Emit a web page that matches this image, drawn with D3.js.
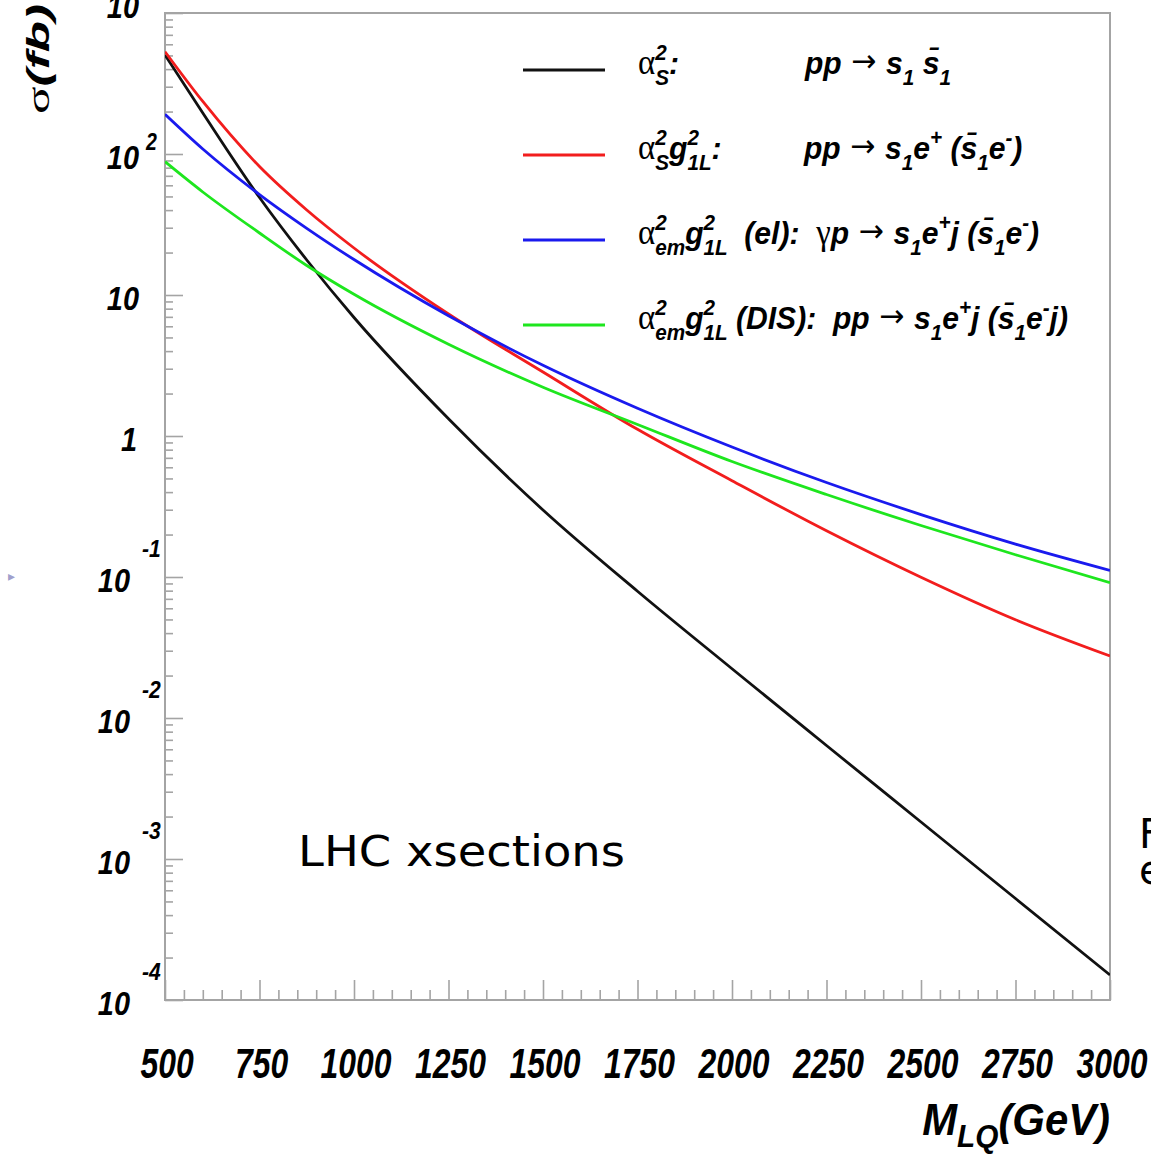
<!DOCTYPE html>
<html>
<head>
<meta charset="utf-8">
<script src="https://cdn.jsdelivr.net/npm/d3@7"></script>
<style>
  html, body { margin: 0; padding: 0; background: #fff; }
  svg { display: block; }
</style>
</head>
<body>
<svg id="chart" width="1151" height="1158"></svg>
<script>
// Leptoquark production cross sections at the LHC versus leptoquark mass
const massGeV     = [500, 600, 750, 875, 1000, 1250, 1500, 1750, 2000, 2250, 2500, 2750, 3000];
const sigmaPair   = [503.7, 195.3, 49.15, 17.71, 6.925, 1.325, 0.2987, 0.07923, 0.02235, 0.006383, 0.001830, 0.0005247, 0.0001504];
const sigmaSingle = [531.6, 235.7, 81.5, 40.08, 21.54, 7.333, 2.844, 1.115, 0.4816, 0.2128, 0.09959, 0.04975, 0.02753];
const sigmaPhoton = [191.2, 108.5, 51.58, 29.72, 17.84, 7.121, 3.172, 1.572, 0.8348, 0.4677, 0.2773, 0.1713, 0.1115];
const sigmaDIS    = [88.19, 53.77, 27.53, 16.19, 10.12, 4.474, 2.217, 1.208, 0.6593, 0.3846, 0.2318, 0.1438, 0.09103];

const xMajorTicks = [500, 750, 1000, 1250, 1500, 1750, 2000, 2250, 2500, 2750, 3000];
const xTickLabels = ["500", "750", "1000", "1250", "1500", "1750", "2000", "2250", "2500", "2750", "3000"];
const yDecadeExponents = [-4, -3, -2, -1, 0, 1, 2, 3];
const seriesColors = ["#111111", "#f21d1d", "#1a1aee", "#1ee61e"];

const svg = d3.select("#chart");
const W = 1151, H = 1158;
const plot = { left: 165, right: 1110, top: 13, bottom: 1000 };
const axisGray = "#a4a4a4";
const labelFont = "'Liberation Sans', Arial, Helvetica, sans-serif";
const symFont = "'Liberation Serif', 'Times New Roman', serif";
const arrowFont = "'DejaVu Sans', sans-serif";
const handFont = "'Comic Sans MS', 'DejaVu Sans', sans-serif";

const x = d3.scaleLinear().domain([500, 3000]).range([plot.left, plot.right]);
const y = d3.scaleLog().domain([1e-4, 1e3]).range([plot.bottom, plot.top]);

svg.append("rect").attr("width", W).attr("height", H).attr("fill", "#fff");

// ---- ticks (drawn inward) ----
const xMinor = d3.range(500, 3001, 50).filter(v => v % 250 !== 0);
const gxMinor = svg.append("g").attr("transform", `translate(0,${plot.bottom})`)
  .call(d3.axisBottom(x).tickValues(xMinor).tickSize(-10).tickFormat(""));
const gxMajor = svg.append("g").attr("transform", `translate(0,${plot.bottom})`)
  .call(d3.axisBottom(x).tickValues(xMajorTicks).tickSize(-20).tickFormat(""));

const yMinor = [];
yDecadeExponents.slice(0, -1).forEach(e => {
  for (let k = 2; k <= 9; k++) yMinor.push(k * Math.pow(10, e));
});
const yMajor = yDecadeExponents.map(e => Math.pow(10, e));
const gyMinor = svg.append("g").attr("transform", `translate(${plot.left},0)`)
  .call(d3.axisLeft(y).tickValues(yMinor).tickSize(-8).tickFormat(""));
const gyMajor = svg.append("g").attr("transform", `translate(${plot.left},0)`)
  .call(d3.axisLeft(y).tickValues(yMajor).tickSize(-18).tickFormat(""));

[gxMinor, gxMajor, gyMinor, gyMajor].forEach(g => {
  g.select(".domain").remove();
  g.selectAll(".tick line").attr("stroke", axisGray).attr("stroke-width", 1.6);
});

// frame
svg.append("rect")
  .attr("x", plot.left).attr("y", plot.top)
  .attr("width", plot.right - plot.left).attr("height", plot.bottom - plot.top)
  .attr("fill", "none").attr("stroke", axisGray).attr("stroke-width", 2);

// ---- condensed text helpers ----
function condensed(parent, px, py, sx) {
  return parent.append("g").attr("transform", `translate(${px},${py}) scale(${sx},1)`);
}
function boldItalic(sel, size) {
  return sel.attr("font-family", labelFont).attr("font-weight", "bold")
    .attr("font-style", "italic").attr("font-size", size).attr("fill", "#000");
}

// x tick labels
xMajorTicks.forEach((v, i) => {
  const g = condensed(svg, x(v) + 2, 1078, 0.76);
  boldItalic(g.append("text"), 42).attr("text-anchor", "middle").text(xTickLabels[i]);
});

// y tick labels: 10^n with raised exponent
yDecadeExponents.forEach(e => {
  const ty = y(Math.pow(10, e));
  if (e === 0) {
    const g = condensed(svg, 137, ty + 15, 0.85);
    boldItalic(g.append("text"), 34).attr("text-anchor", "end").text("1");
  } else if (e === 1) {
    const g = condensed(svg, 139, ty + 15, 0.85);
    boldItalic(g.append("text"), 34).attr("text-anchor", "end").text("10");
  } else if (e > 0) {
    const base = e === 3 ? ty + 5 : ty + 15;
    const g = condensed(svg, 139, base, 0.85);
    boldItalic(g.append("text"), 34).attr("text-anchor", "end").text("10");
    const ge = condensed(svg, 146, base - 19, 0.85);
    boldItalic(ge.append("text"), 23).attr("text-anchor", "start").text(String(e));
  } else {
    const g = condensed(svg, 130, ty + 15, 0.85);
    boldItalic(g.append("text"), 34).attr("text-anchor", "end").text("10");
    const ge = condensed(svg, 142, ty - 20, 0.88);
    boldItalic(ge.append("text"), 24).attr("text-anchor", "start").text(String(e));
  }
});

// x axis title  M_LQ(GeV)
{
  const g = condensed(svg, plot.right, 1135, 0.93);
  const t = boldItalic(g.append("text"), 45).attr("text-anchor", "end");
  t.append("tspan").text("M");
  t.append("tspan").attr("font-size", 32).attr("dy", 12).text("LQ");
  t.append("tspan").attr("dy", -12).text("(GeV)");
}

// y axis title  σ(fb)
{
  const g = svg.append("g").attr("transform", `translate(49,114) rotate(-90) scale(1.6,1)`);
  const t = g.append("text").attr("font-size", 32).attr("fill", "#000");
  t.append("tspan").attr("font-family", symFont).text("σ");
  t.append("tspan").attr("font-family", labelFont).attr("font-weight", "bold")
    .attr("font-style", "italic").text("(fb)");
}

// ---- curves ----
const line = d3.line()
  .x(d => x(d[0]))
  .y(d => y(d[1]))
  .curve(d3.curveMonotoneX);

const series = [sigmaPair, sigmaSingle, sigmaPhoton, sigmaDIS];
svg.append("clipPath").attr("id", "plotClip")
  .append("rect").attr("x", plot.left).attr("y", plot.top)
  .attr("width", plot.right - plot.left).attr("height", plot.bottom - plot.top);
const curves = svg.append("g").attr("clip-path", "url(#plotClip)");
series.forEach((vals, i) => {
  curves.append("path")
    .datum(massGeV.map((m, j) => [m, vals[j]]))
    .attr("d", line)
    .attr("fill", "none")
    .attr("stroke", seriesColors[i])
    .attr("stroke-width", 2.8)
    .attr("stroke-linejoin", "round");
});

// ---- legend ----
const legendRows = [
  {
    y: 70,
    parts: [
      { x: 638, segs: [["sym", "α"], ["stack", "2", "S"], ["b", ":"]] },
      { x: 805, segs: [["b", "pp"], ["arrow", "\u00a0→\u00a0"], ["b", "s"], ["sub", "1"], ["b", "\u00a0s\u0304"], ["sub", "1"]] }
    ]
  },
  {
    y: 155,
    parts: [
      { x: 638, segs: [["sym", "α"], ["stack", "2", "S"], ["b", "g"], ["stack", "2", "1L"], ["b", ":"]] },
      { x: 804, segs: [["b", "pp"], ["arrow", "\u00a0→\u00a0"], ["b", "s"], ["sub", "1"], ["b", "e"], ["sup", "+"],
                       ["b", "\u00a0(s\u0304"], ["sub", "1"], ["b", "e"], ["sup", "-"], ["b", ")"]] }
    ]
  },
  {
    y: 240,
    parts: [
      { x: 638, segs: [["sym", "α"], ["stack", "2", "em"], ["b", "g"], ["stack", "2", "1L"],
                       ["b", "\u00a0\u00a0(el):\u00a0\u00a0"], ["sym", "γ"], ["b", "p"], ["arrow", "\u00a0→\u00a0"],
                       ["b", "s"], ["sub", "1"], ["b", "e"], ["sup", "+"], ["b", "j\u00a0(s\u0304"], ["sub", "1"],
                       ["b", "e"], ["sup", "-"], ["b", ")"]] }
    ]
  },
  {
    y: 325,
    parts: [
      { x: 638, segs: [["sym", "α"], ["stack", "2", "em"], ["b", "g"], ["stack", "2", "1L"],
                       ["b", "\u00a0(DIS):\u00a0\u00a0pp"], ["arrow", "\u00a0→\u00a0"],
                       ["b", "s"], ["sub", "1"], ["b", "e"], ["sup", "+"], ["b", "j\u00a0(s\u0304"], ["sub", "1"],
                       ["b", "e"], ["sup", "-"], ["b", "j)"]] }
    ]
  }
];

const LEG_FS = 32, LEG_SMALL = 22, SUP_RISE = 14, SUB_DROP = 11;
const legendRight = 1068;   // right end of the widest entry

function styleSeg(t, kind) {
  if (kind === "sym") {
    t.attr("font-family", symFont).attr("font-size", LEG_FS + 3);
  } else if (kind === "arrow") {
    t.attr("font-family", arrowFont).attr("font-size", LEG_FS).attr("dy", -2);
  } else {
    t.attr("font-family", labelFont).attr("font-weight", "bold").attr("font-style", "italic")
      .attr("font-size", kind === "b" ? LEG_FS : LEG_SMALL);
  }
  return t.attr("fill", "#000");
}

const legendGroups = [];
let widestRun = 0;
legendRows.forEach((row, i) => {
  svg.append("line")
    .attr("x1", 523).attr("x2", 605).attr("y1", row.y).attr("y2", row.y)
    .attr("stroke", seriesColors[i]).attr("stroke-width", 3);
  row.parts.forEach(part => {
    const g = svg.append("g");
    let cx = 0;
    part.segs.forEach(s => {
      const kind = s[0];
      if (kind === "stack") {
        const a = styleSeg(g.append("text"), "small").attr("x", cx).attr("y", -SUP_RISE).text(s[1]);
        const b = styleSeg(g.append("text"), "small").attr("x", cx).attr("y", SUB_DROP).text(s[2]);
        cx += Math.max(a.node().getComputedTextLength(), b.node().getComputedTextLength());
      } else {
        const dy = kind === "sup" ? -SUP_RISE : kind === "sub" ? SUB_DROP : 0;
        const t = styleSeg(g.append("text"), kind).attr("x", cx).attr("y", dy).text(s[1]);
        cx += t.node().getComputedTextLength();
      }
    });
    legendGroups.push({ g, x: part.x, y: row.y + 4 });
    if (i === 3) widestRun = cx;
  });
});
const legendSX = (legendRight - legendRows[3].parts[0].x) / widestRun;
legendGroups.forEach(o => o.g.attr("transform", `translate(${o.x},${o.y}) scale(${legendSX},1)`));

// ---- slide annotations ----
svg.append("text")
  .attr("x", 298).attr("y", 866)
  .attr("font-family", handFont)
  .attr("font-size", 42).attr("fill", "#000")
  .attr("textLength", 327).attr("lengthAdjust", "spacingAndGlyphs")
  .text("LHC xsections");
svg.append("text").attr("x", 1139).attr("y", 848)
  .attr("font-family", handFont).attr("font-size", 40).attr("fill", "#000").text("F");
svg.append("text").attr("x", 1139).attr("y", 884)
  .attr("font-family", handFont).attr("font-size", 40).attr("fill", "#000").text("e");
svg.append("text").attr("x", 8).attr("y", 581)
  .attr("font-family", "'DejaVu Sans', sans-serif")
  .attr("font-size", 14).attr("fill", "#a0a0cc").text("▸");
</script>
</body>
</html>
